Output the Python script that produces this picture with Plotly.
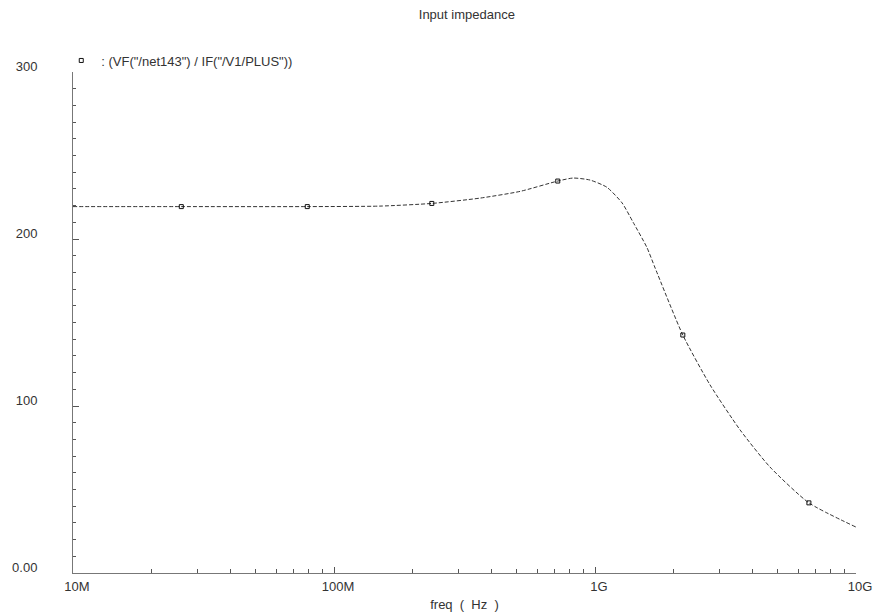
import plotly.graph_objects as go

# Input impedance magnitude vs. frequency (AC sweep)
freq_hz = [1e7, 2.6e7, 7.9e7, 1.5e8, 2.37e8, 3.63e8, 5.16e8, 7.2e8, 8.24e8,
           9.57e8, 1.11e9, 1.27e9, 1.4e9, 1.58e9, 1.7e9, 2.17e9, 2.76e9,
           3.6e9, 4.68e9, 6.6e9, 1e10]
zin_ohm = [219.4, 219.4, 219.4, 219.7, 221.3, 224.5, 228.5, 234.7, 236.5,
           235.3, 231.0, 221.6, 210.0, 195.0, 182.6, 142.5, 112.6,
           85.6, 63.5, 42.0, 27.5]
# sample points that carry the trace marker
marker_idx = [1, 2, 4, 7, 15, 19]

x_tick_vals = [1e7, 1e8, 1e9, 1e10]
x_tick_text = ["10M", "100M", "1G", "10G"]
x_minor_vals = [m * 10 ** e for e in (7, 8, 9) for m in range(2, 10)]
y_tick_vals = [0, 100, 200, 300]
y_tick_text = ["0.00", "100", "200", "300"]

trace_name = ': (VF("/net143") / IF("/V1/PLUS"))'
ink = "#333333"
font_family = "Liberation Sans, Arial, sans-serif"

fig = go.Figure()
fig.add_trace(go.Scatter(
    x=freq_hz, y=zin_ohm, mode="lines",
    line=dict(color=ink, width=1, dash="4px,2px", shape="spline", smoothing=0.6),
    showlegend=False, hoverinfo="skip",
))
fig.add_trace(go.Scatter(
    x=[freq_hz[i] for i in marker_idx], y=[zin_ohm[i] for i in marker_idx],
    mode="markers", name=trace_name,
    marker=dict(symbol="square-open", size=4, color="#111111", line=dict(width=1)),
))

fig.update_layout(
    width=880, height=615,
    margin=dict(l=73, r=24, t=72, b=42, autoexpand=False),
    paper_bgcolor="white", plot_bgcolor="white",
    font=dict(family=font_family, size=13, color=ink),
    title=dict(text="Input impedance", x=0.5305, xanchor="center",
               y=0.976, yanchor="middle", font=dict(size=13, color=ink)),
    legend=dict(x=-0.015, y=0.993, xanchor="left", yanchor="bottom",
                bgcolor="rgba(0,0,0,0)", font=dict(size=13, color=ink),
                itemwidth=30, tracegroupgap=0),
    showlegend=True,
)

fig.update_xaxes(
    type="log", range=[7, 10], automargin=False,
    showgrid=False, zeroline=False,
    showline=True, linecolor="#777777", linewidth=1,
    tickvals=x_tick_vals, ticktext=x_tick_text,
    ticks="inside", ticklen=6, tickcolor="#555555", tickwidth=1,
    tickfont=dict(size=13, color=ink),
    ticklabelstandoff=1, ticklabelshift=4,
    minor=dict(tickvals=x_minor_vals, ticks="inside", ticklen=4,
               tickcolor="#555555", showgrid=False),
    title=dict(text="freq&nbsp;&nbsp;(&nbsp;&nbsp;Hz&nbsp;&nbsp;)", standoff=7,
               font=dict(size=13, color=ink)),
)

fig.update_yaxes(
    range=[0, 300], automargin=False,
    showgrid=False, zeroline=False,
    showline=True, linecolor="#777777", linewidth=1,
    tickvals=y_tick_vals, ticktext=y_tick_text,
    ticks="inside", ticklen=6, tickcolor="#555555", tickwidth=1,
    tickfont=dict(size=13, color=ink),
    ticklabelstandoff=32, ticklabelshift=-6,
    minor=dict(dtick=10, ticks="inside", ticklen=3,
               tickcolor="#555555", showgrid=False),
)

fig.write_html("out.html")
